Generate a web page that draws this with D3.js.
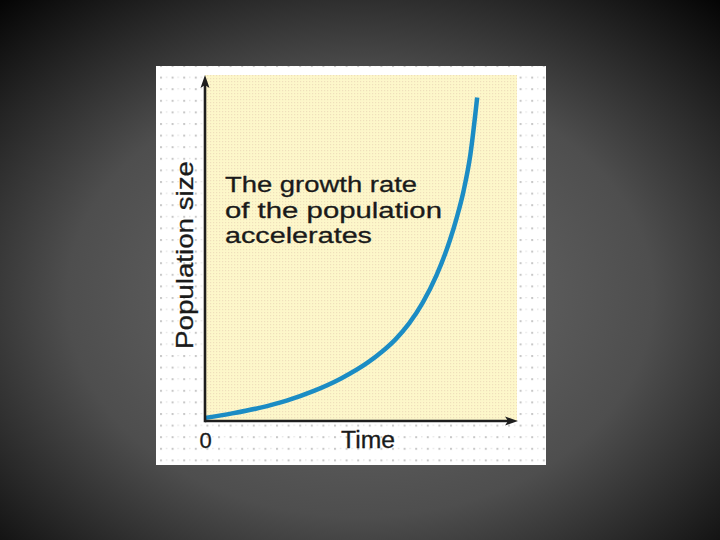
<!DOCTYPE html>
<html>
<head>
<meta charset="utf-8">
<script src="https://cdn.jsdelivr.net/npm/d3@7"></script>
<style>
  html, body { margin: 0; padding: 0; background: #000; }
  svg { display: block; }
</style>
</head>
<body>
<svg id="chart" width="720" height="540"></svg>
<script>
// ---- data ----
const time = [0, 1, 2, 3, 4, 5, 6, 6.5, 7, 7.5, 8, 8.5, 9, 9.25, 9.5, 9.75, 10];
const population = [0.9, 2.2, 3.8, 5.9, 8.7, 12.3, 17.0, 20.0, 23.6, 28.2, 34.2, 42.0, 52.3, 58.8, 66.5, 77.0, 93.5];
const xTickValues = [0];
const xTickLabels = ["0"];
const xTitle = "Time";
const yTitle = "Population size";
const annotation = ["The growth rate", "of the population", "accelerates"];

const W = 720, H = 540;
const svg = d3.select("#chart");
const defs = svg.append("defs");

// background radial gradient
const rg = defs.append("radialGradient").attr("id", "bg")
  .attr("cx", "50%").attr("cy", "55%").attr("r", "74%");
rg.append("stop").attr("offset", "0%").attr("stop-color", "#6e6e6e");
rg.append("stop").attr("offset", "55%").attr("stop-color", "#4e4e4e");
rg.append("stop").attr("offset", "100%").attr("stop-color", "#050505");
svg.append("rect").attr("width", W).attr("height", H).attr("fill", "url(#bg)");

// panel
const panel = { x: 156, y: 66, w: 390, h: 399 };
// dotted grid pattern on white
const gp = defs.append("pattern").attr("id", "gridDots")
  .attr("patternUnits", "userSpaceOnUse")
  .attr("x", 160).attr("y", 65).attr("width", 11.6).attr("height", 11.6);
gp.append("rect").attr("width", 11.6).attr("height", 11.6).attr("fill", "#ffffff");
gp.append("rect").attr("x", 0).attr("y", 0).attr("width", 2).attr("height", 2).attr("fill", "#c8c8c8");
gp.append("rect").attr("x", 5.8).attr("y", 0).attr("width", 1.5).attr("height", 1.2).attr("fill", "#e2e2e2");

// yellow halftone pattern
const yp = defs.append("pattern").attr("id", "yellowDots")
  .attr("patternUnits", "userSpaceOnUse")
  .attr("width", 3).attr("height", 3);
yp.append("rect").attr("width", 3).attr("height", 3).attr("fill", "#fdf7ca");
yp.append("rect").attr("x", 0).attr("y", 0).attr("width", 1.2).attr("height", 1.2).attr("fill", "#efdfbb");

svg.append("rect").attr("x", panel.x).attr("y", panel.y)
  .attr("width", panel.w).attr("height", panel.h).attr("fill", "url(#gridDots)");

// scales
const x = d3.scaleLinear().domain([0, 11.5]).range([205, 518]);
const y = d3.scaleLinear().domain([0, 100]).range([421, 75]);

// plot area
svg.append("rect")
  .attr("x", x.range()[0]).attr("y", y.range()[1])
  .attr("width", x.range()[1] - x.range()[0] - 1)
  .attr("height", y.range()[0] - y.range()[1])
  .attr("fill", "url(#yellowDots)");

// curve
const line = d3.line()
  .x((d, i) => x(time[i]))
  .y(d => y(d))
  .curve(d3.curveMonotoneX);
svg.append("path")
  .datum(population)
  .attr("d", line)
  .attr("fill", "none")
  .attr("stroke", "#1b8cc4")
  .attr("stroke-width", 4.5)
  .attr("stroke-linecap", "butt");

// axes
const axisColor = "#1e1e1e";
const x0 = x.range()[0], x1 = x.range()[1];
const y0 = y.range()[0], y1 = y.range()[1];
svg.append("line").attr("x1", x0).attr("y1", y0).attr("x2", x1 - 8).attr("y2", y0)
  .attr("stroke", axisColor).attr("stroke-width", 2.6);
svg.append("line").attr("x1", x0).attr("y1", y0 + 1.3).attr("x2", x0).attr("y2", y1 + 8)
  .attr("stroke", axisColor).attr("stroke-width", 2.6);
// arrowheads
svg.append("path")
  .attr("d", `M${x1},${y0} L${x1 - 13},${y0 - 4.5} L${x1 - 10},${y0} L${x1 - 13},${y0 + 4.5} Z`)
  .attr("fill", axisColor);
svg.append("path")
  .attr("d", `M${x0},${y1} L${x0 - 4.5},${y1 + 13} L${x0},${y1 + 10} L${x0 + 4.5},${y1 + 13} Z`)
  .attr("fill", axisColor);

const font = "'Liberation Sans', Arial, sans-serif";
const textColor = "#1a1a1a";

// tick label(s)
svg.selectAll("text.xtick").data(xTickValues).enter().append("text")
  .attr("class", "xtick")
  .attr("x", d => x(d) + 0.5).attr("y", 448)
  .attr("text-anchor", "middle")
  .attr("font-family", font).attr("font-size", 22)
  .attr("fill", textColor).attr("stroke", textColor).attr("stroke-width", 0.3)
  .text((d, i) => xTickLabels[i]);

// axis titles
svg.append("text")
  .attr("x", 368).attr("y", 448)
  .attr("text-anchor", "middle")
  .attr("font-family", font).attr("font-size", 23)
  .attr("fill", textColor).attr("stroke", textColor).attr("stroke-width", 0.3)
  .attr("textLength", 54).attr("lengthAdjust", "spacingAndGlyphs")
  .text(xTitle);

svg.append("text")
  .attr("transform", `translate(193,${255}) rotate(-90)`)
  .attr("text-anchor", "middle")
  .attr("font-family", font).attr("font-size", 24)
  .attr("fill", textColor).attr("stroke", textColor).attr("stroke-width", 0.3)
  .attr("textLength", 188).attr("lengthAdjust", "spacingAndGlyphs")
  .text(yTitle);

// annotation
const annWidths = [192, 217, 147];
svg.selectAll("text.ann").data(annotation).enter().append("text")
  .attr("class", "ann")
  .attr("x", 225).attr("y", (d, i) => 192 + i * 25.5)
  .attr("font-family", font).attr("font-size", 22.5)
  .attr("fill", textColor).attr("stroke", textColor).attr("stroke-width", 0.3)
  .attr("textLength", (d, i) => annWidths[i]).attr("lengthAdjust", "spacingAndGlyphs")
  .text(d => d);
</script>
</body>
</html>
